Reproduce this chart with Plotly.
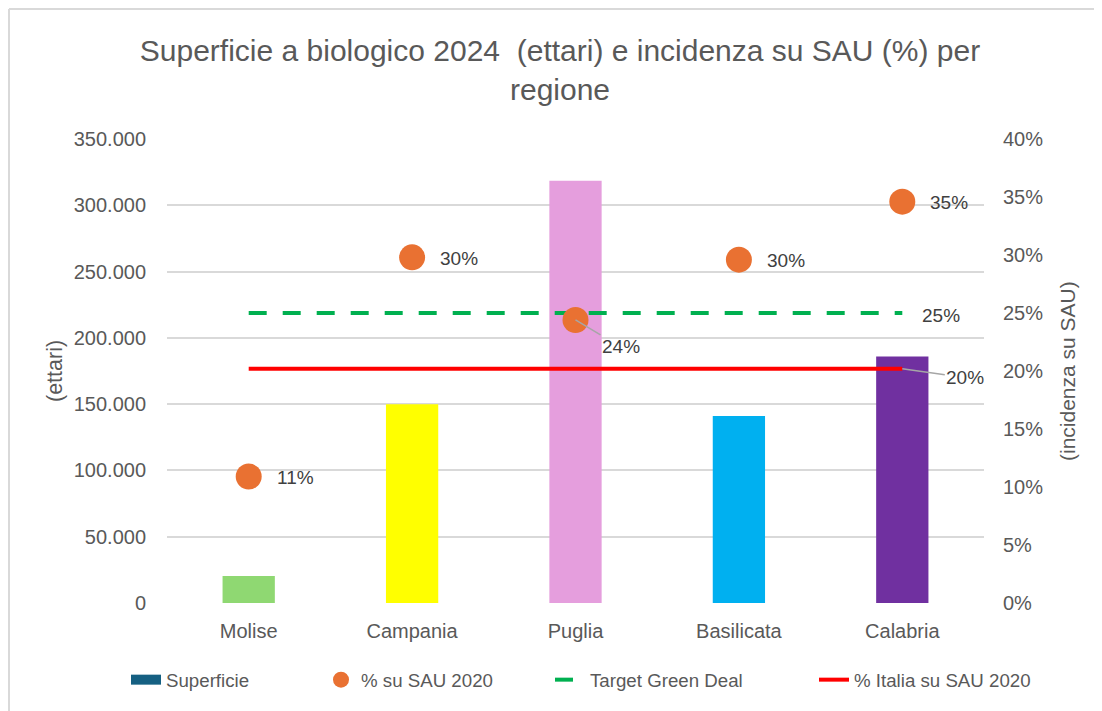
import plotly.graph_objects as go

# ---------------- data ----------------
regions = ["Molise", "Campania", "Puglia", "Basilicata", "Calabria"]
superficie_ha = [20400, 150000, 318500, 141000, 186000]
pct_sau_2020 = [10.9, 29.8, 24.4, 29.6, 34.6]
target_green_deal = [25, 25, 25, 25, 25]
italia_sau_2020 = [20.2, 20.2, 20.2, 20.2, 20.2]
bar_colors = ["#8FD872", "#FFFF00", "#E59EDD", "#00B0F0", "#7030A0"]

left_ticks = [0, 50000, 100000, 150000, 200000, 250000, 300000, 350000]
right_ticks = [0, 5, 10, 15, 20, 25, 30, 35, 40]
right_tick_labels = [f"{v}%" for v in right_ticks]

# ---------------- layout geometry (screen px, page has 8px body margin) ----------------
OFF = 8
W, H = 1102 - OFF, 711 - OFF
ML = 167 - OFF
MT = 139 - OFF
MB = H - (603 - OFF)
MR = W - (984 - OFF)
PW, PH = W - ML - MR, H - MT - MB


def px(xs):
    return (xs - OFF - ML) / PW


def py(ys):
    return (H - MB - (ys - OFF)) / PH


FONT = "Liberation Sans, Arial, sans-serif"
TICK_C = "#595959"
LABEL_C = "#404040"
FS_TICK = 20
FS_LAB = 19

fig = go.Figure()

# bars
fig.add_trace(go.Bar(
    x=regions, y=superficie_ha, marker=dict(color=bar_colors, line=dict(width=0)),
    width=0.32, showlegend=False, name="Superficie", hoverinfo="x+y",
))

# lines
fig.add_trace(go.Scatter(
    x=regions, y=target_green_deal, yaxis="y2", mode="lines",
    line=dict(color="#00B050", width=4, dash="18px,16px"),
    name="Target Green Deal", legend="legend3",
))
fig.add_trace(go.Scatter(
    x=regions, y=italia_sau_2020, yaxis="y2", mode="lines",
    line=dict(color="#FF0000", width=4),
    name="% Italia su SAU 2020", legend="legend4",
))

# dots
fig.add_trace(go.Scatter(
    x=regions, y=pct_sau_2020, yaxis="y2", mode="markers",
    marker=dict(color="#E97132", size=26, line=dict(width=0)),
    name="% su SAU 2020", legend="legend2",
))

# legend proxy for bar series
fig.add_trace(go.Scatter(
    x=[regions[0]], y=[None], mode="lines",
    line=dict(color="#156082", width=12),
    name="Superficie", legend="legend",
))

# ---------------- annotations (data labels) ----------------
lab_font = dict(family=FONT, size=FS_LAB, color=LABEL_C)
annotations = []
for r, v in zip(regions, pct_sau_2020):
    if r == "Puglia":
        annotations.append(dict(
            x=r, y=v, xref="x", yref="y2", text=f"{v:.0f}%", showarrow=True,
            arrowhead=0, arrowwidth=1.5, arrowcolor="#A6A6A6", ax=45, ay=27,
            font=lab_font))
    else:
        annotations.append(dict(
            x=r, y=v, xref="x", yref="y2", text=f"{v:.0f}%", showarrow=False,
            xanchor="left", yanchor="middle", xshift=26, yshift=-1, font=lab_font))

annotations += [
    dict(x=regions[-1], y=italia_sau_2020[-1], xref="x", yref="y2",
         text=f"{italia_sau_2020[-1]:.0f}%", showarrow=True, arrowhead=0,
         arrowwidth=1.5, arrowcolor="#A6A6A6", ax=63, ay=9, font=lab_font),
    dict(x=regions[-1], y=target_green_deal[-1], xref="x", yref="y2",
         text=f"{target_green_deal[-1]:.0f}%", showarrow=False,
         xshift=39, yshift=-2, font=lab_font),
    dict(text="(ettari)", textangle=-90, xref="paper", yref="paper",
         x=px(55), y=py(371), showarrow=False, xanchor="center", yanchor="middle",
         font=dict(family=FONT, size=21.5, color=TICK_C)),
    dict(text="(incidenza su SAU)", textangle=-90, xref="paper", yref="paper",
         x=px(1067), y=py(371), showarrow=False, xanchor="center", yanchor="middle",
         font=dict(family=FONT, size=21, color=TICK_C)),
]

legend_common = dict(
    orientation="h", yanchor="middle", y=py(680), xanchor="left",
    font=dict(family=FONT, size=18.7, color=TICK_C), bgcolor="rgba(0,0,0,0)",
)

border = dict(color="#D9D9D9", width=2)

fig.update_layout(
    width=W, height=H,
    margin=dict(l=ML, r=MR, t=MT, b=MB, autoexpand=False),
    paper_bgcolor="white", plot_bgcolor="white",
    separators=",.",
    barmode="overlay",
    title=dict(
        text="Superficie a biologico 2024  (ettari) e incidenza su SAU (%) per<br>regione",
        x=(560 - OFF) / W, xanchor="center", xref="container",
        y=1 - 53 / H, yanchor="top", yref="container",
        font=dict(family=FONT, size=30, color=TICK_C),
    ),
    xaxis=dict(
        type="category", range=[-0.5, 4.5], showgrid=False, showline=False,
        zeroline=False, ticks="", ticklabelstandoff=14,
        tickfont=dict(family=FONT, size=FS_TICK, color=TICK_C),
    ),
    yaxis=dict(
        range=[0, 350000], tickvals=left_ticks, tickformat=",d",
        showgrid=True, gridcolor="#D9D9D9", gridwidth=1.5, zeroline=False,
        showline=False, ticks="", ticklabelstandoff=20,
        tickfont=dict(family=FONT, size=FS_TICK, color=TICK_C),
    ),
    yaxis2=dict(
        range=[0, 40], tickvals=right_ticks, ticktext=right_tick_labels,
        overlaying="y", side="right", showgrid=False, zeroline=False,
        showline=False, ticks="", ticklabelstandoff=18,
        tickfont=dict(family=FONT, size=FS_TICK, color=TICK_C),
    ),
    legend=dict(legend_common, x=px(126)),
    legend2=dict(legend_common, x=px(321)),
    legend3=dict(legend_common, x=px(550)),
    legend4=dict(legend_common, x=px(814)),
    annotations=annotations,
    shapes=[
        dict(type="line", xref="paper", yref="paper",
             x0=px(OFF + 1), y0=py(OFF + 1), x1=px(OFF + W), y1=py(OFF + 1),
             line=border, layer="below"),
        dict(type="line", xref="paper", yref="paper",
             x0=px(OFF + 1), y0=py(OFF + 1), x1=px(OFF + 1), y1=py(OFF + H),
             line=border, layer="below"),
    ],
)

fig.write_html("out.html")
